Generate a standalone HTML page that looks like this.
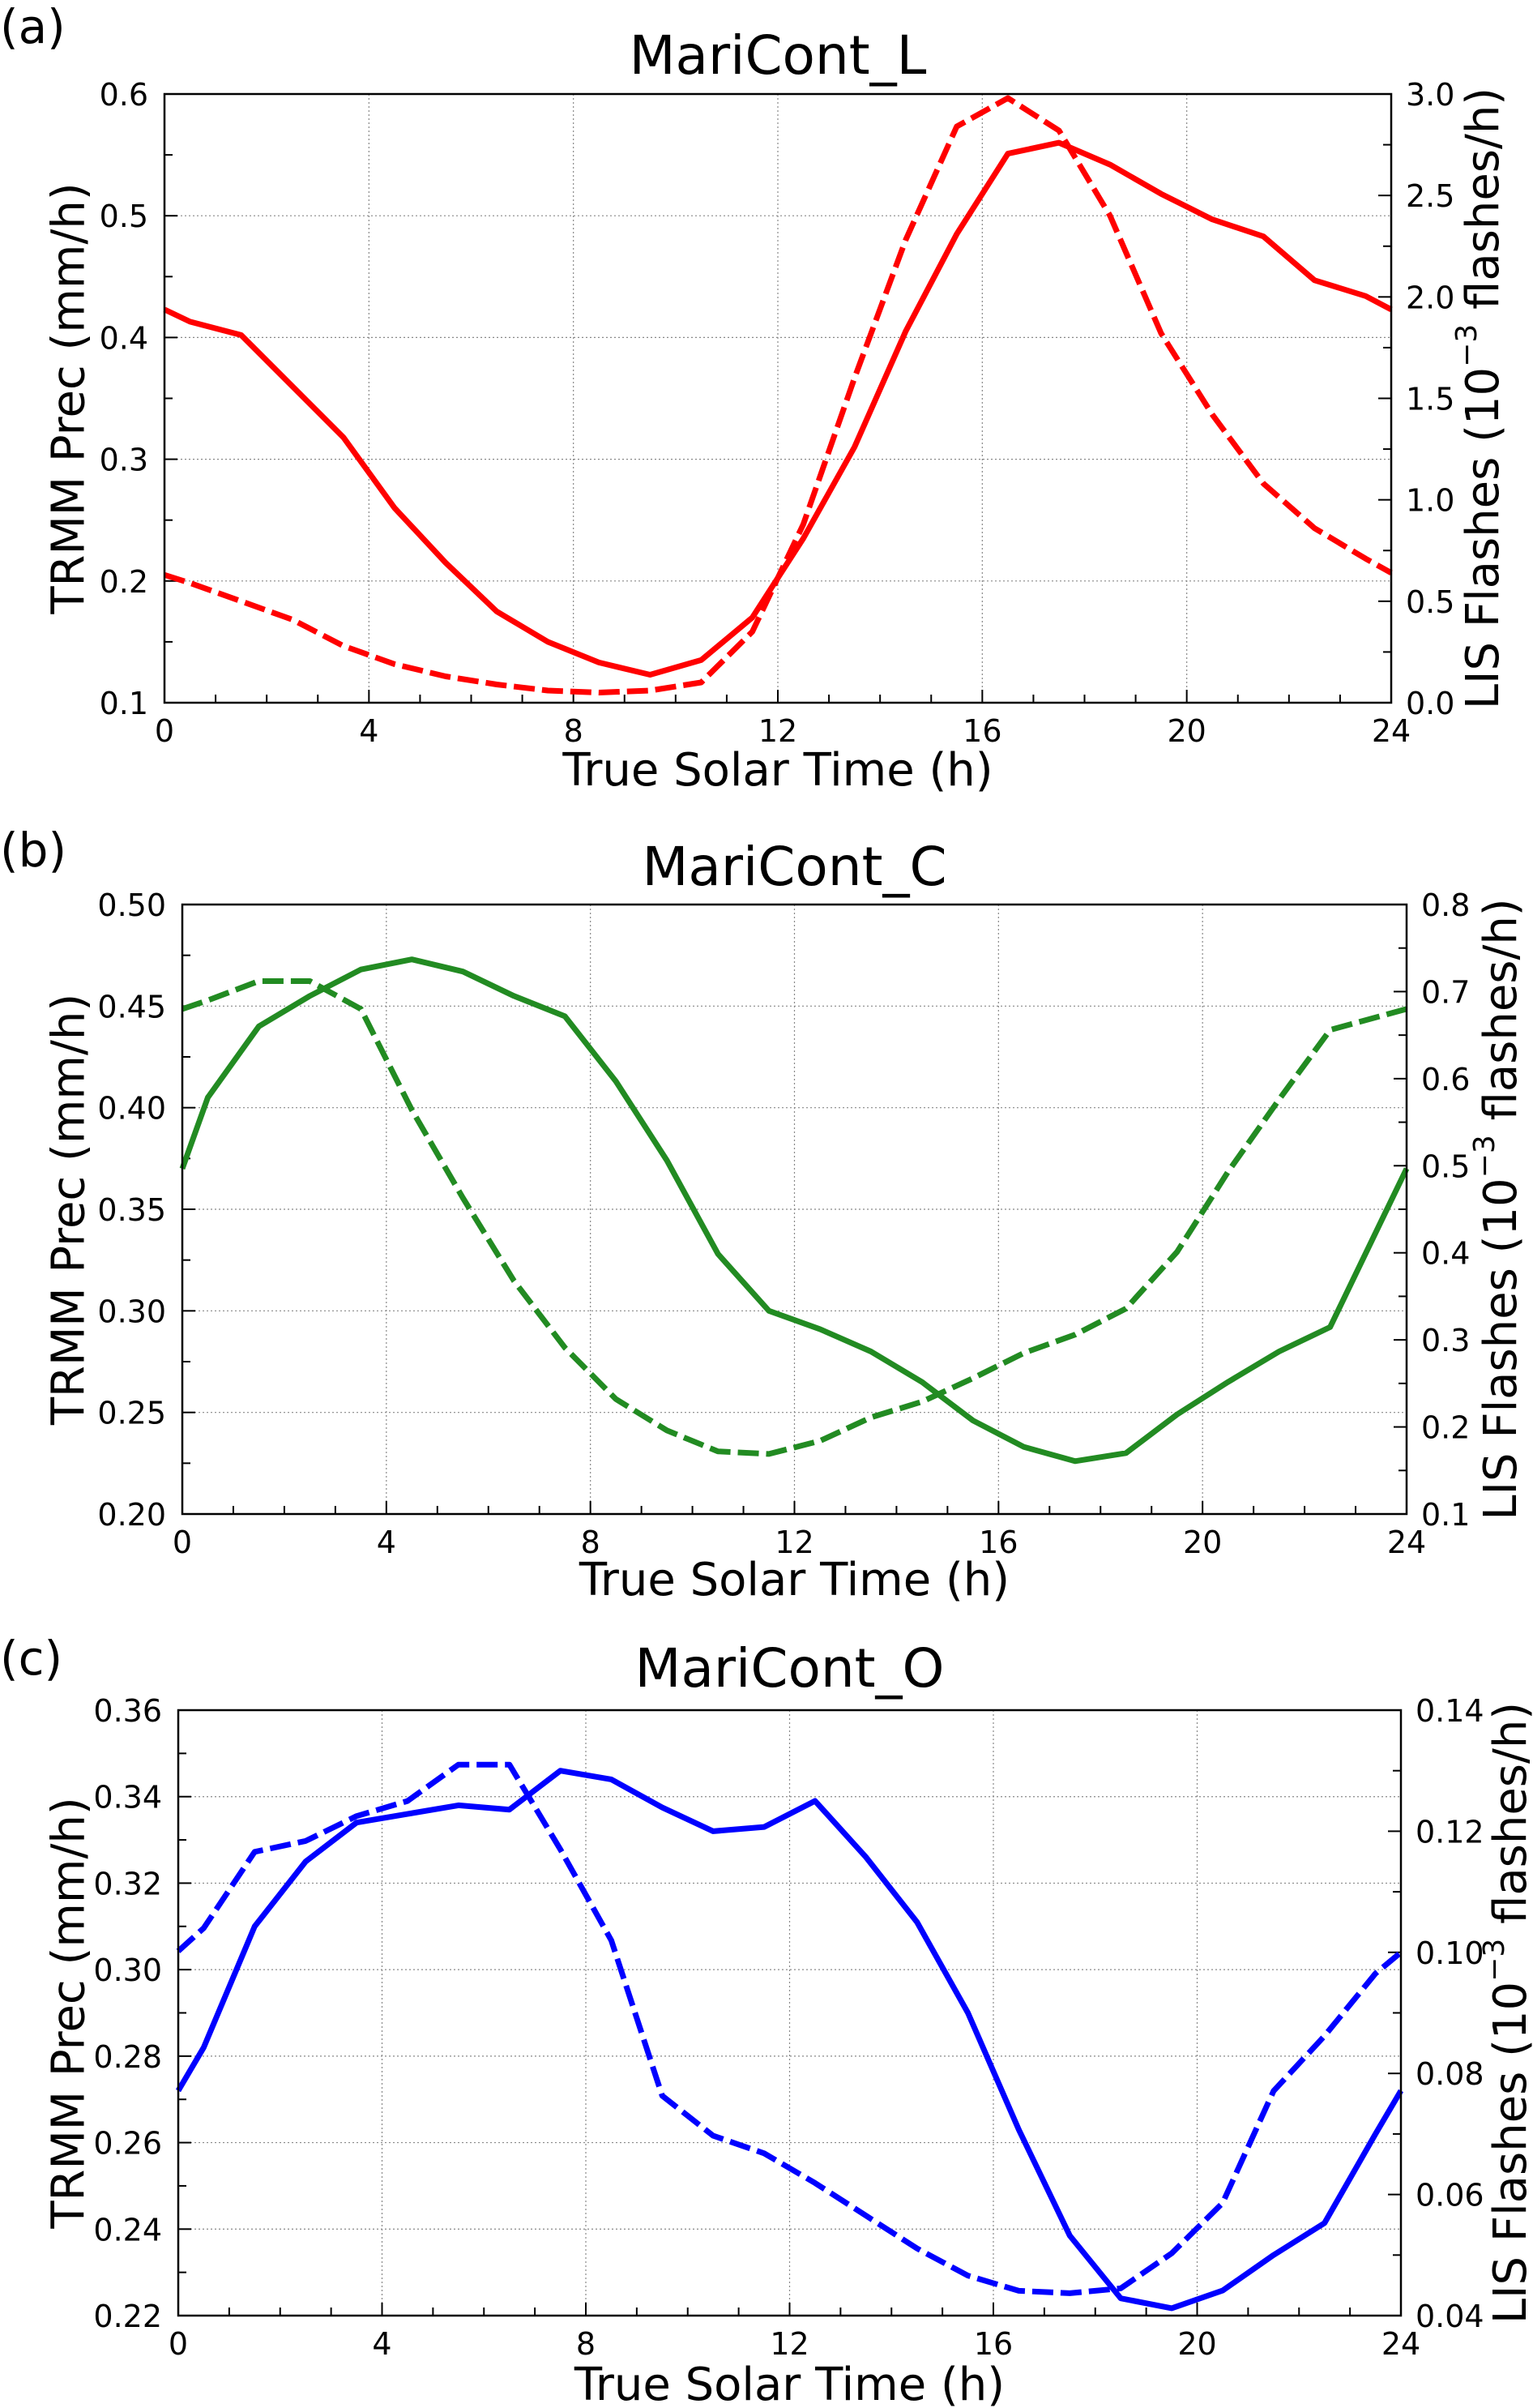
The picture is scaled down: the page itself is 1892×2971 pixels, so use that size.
<!DOCTYPE html>
<html><head><meta charset="utf-8"><style>
html,body{margin:0;padding:0;background:#fff;}
svg{display:block;font-family:"DejaVu Sans","Liberation Sans",sans-serif;}
</style></head><body>
<svg id="fig" width="1892" height="2971" viewBox="0 0 1892 2971" xmlns="http://www.w3.org/2000/svg"></svg>
<script>
const hours = [0,0.5,1.5,2.5,3.5,4.5,5.5,6.5,7.5,8.5,9.5,10.5,11.5,12.5,13.5,14.5,15.5,16.5,17.5,18.5,19.5,20.5,21.5,22.5,23.5,24];
const precL = [0.423,0.413,0.402,0.36,0.318,0.26,0.215,0.175,0.15,0.133,0.123,0.135,0.17,0.235,0.31,0.405,0.485,0.551,0.56,0.542,0.518,0.497,0.483,0.447,0.434,0.423];
const flashL = [0.63,0.59,0.5,0.41,0.28,0.19,0.13,0.09,0.06,0.05,0.06,0.1,0.35,0.88,1.6,2.28,2.84,2.98,2.82,2.4,1.82,1.42,1.08,0.86,0.71,0.64];
const precC = [0.37,0.405,0.44,0.455,0.468,0.473,0.467,0.455,0.445,0.413,0.374,0.328,0.3,0.291,0.28,0.265,0.246,0.233,0.226,0.23,0.249,0.265,0.28,0.292,0.344,0.37];
const flashC = [0.68,0.69,0.712,0.712,0.68,0.564,0.463,0.368,0.291,0.232,0.196,0.172,0.169,0.184,0.211,0.229,0.256,0.285,0.306,0.336,0.401,0.493,0.576,0.656,0.672,0.68];
const precO = [0.272,0.282,0.31,0.325,0.334,0.336,0.338,0.337,0.346,0.344,0.3375,0.332,0.333,0.339,0.326,0.311,0.29,0.263,0.2385,0.224,0.2217,0.2258,0.234,0.2414,0.262,0.272];
const flashO = [0.1002,0.104,0.1166,0.1184,0.1225,0.125,0.131,0.131,0.117,0.102,0.0763,0.0697,0.0668,0.0619,0.0565,0.0511,0.0466,0.0441,0.0437,0.0445,0.0503,0.0586,0.0771,0.0862,0.0965,0.1];
const xTicks = [0,4,8,12,16,20,24];
const leftTicksL = ["0.1","0.2","0.3","0.4","0.5","0.6"];
const rightTicksL = ["0.0","0.5","1.0","1.5","2.0","2.5","3.0"];
const leftTicksC = ["0.20","0.25","0.30","0.35","0.40","0.45","0.50"];
const rightTicksC = ["0.1","0.2","0.3","0.4","0.5","0.6","0.7","0.8"];
const leftTicksO = ["0.22","0.24","0.26","0.28","0.30","0.32","0.34","0.36"];
const rightTicksO = ["0.04","0.06","0.08","0.10","0.12","0.14"];

const NS="http://www.w3.org/2000/svg";
const svg=document.getElementById('fig');
function mk(tag,attrs,parent){const e=document.createElementNS(NS,tag);for(const k in attrs)e.setAttribute(k,attrs[k]);(parent||svg).appendChild(e);return e;}

const panels=[
 {id:'a',label:'(a)',title:'MariCont_L',L:203,R:1717,T:116,B:867,color:'#ff0000',prec:precL,flash:flashL,lt:leftTicksL,rt:rightTicksL,lbY:53,tY:91,xlY:969,rlx:1830},
 {id:'b',label:'(b)',title:'MariCont_C',L:225,R:1736,T:1116,B:1868,color:'#228b22',prec:precC,flash:flashC,lt:leftTicksC,rt:rightTicksC,lbY:1069,tY:1092,xlY:1968,rlx:1852},
 {id:'c',label:'(c)',title:'MariCont_O',L:220,R:1729,T:2110,B:2857,color:'#0000ff',prec:precO,flash:flashO,lt:leftTicksO,rt:rightTicksO,lbY:2066,tY:2081,xlY:2961,rlx:1864}
];

panels.forEach(p=>{
 const g=mk('g',{});
 
 
 const lmin=parseFloat(p.lt[0]),lmax=parseFloat(p.lt[p.lt.length-1]);
 const rmin=parseFloat(p.rt[0]),rmax=parseFloat(p.rt[p.rt.length-1]);
 const xs=v=>p.L+(v/24)*(p.R-p.L);
 const yl=v=>p.B-(v-lmin)/(lmax-lmin)*(p.B-p.T);
 const yr=v=>p.B-(v-rmin)/(rmax-rmin)*(p.B-p.T);
 const pl=mk('text',{x:0,y:p.lbY,'font-size':58},g);pl.textContent=p.label;
 
 
 const ti=mk('text',{x:(p.L+p.R)/2,y:p.tY,'font-size':66,'text-anchor':'middle'},g);ti.textContent=p.title;
 
 
 xTicks.forEach(t=>{ if(t>0&&t<24){const l=mk('line',{x1:xs(t),x2:xs(t),y1:p.T,y2:p.B,stroke:'#888','stroke-width':1.2,'stroke-dasharray':'2,3'},g);
  
  }});
 p.lt.forEach((t,i)=>{ if(i>0&&i<p.lt.length-1){const l=mk('line',{x1:p.L,x2:p.R,y1:yl(parseFloat(t)),y2:yl(parseFloat(t)),stroke:'#888','stroke-width':1.2,'stroke-dasharray':'2,3'},g);
  
  }});
 for(let h=0;h<=24;h++){const maj=h%4===0;const l=mk('line',{x1:xs(h),x2:xs(h),y1:p.B,y2:p.B-(maj?16:10),stroke:'#000','stroke-width':2},g);
  
  }
 xTicks.forEach(t=>{const tx=mk('text',{x:xs(t),y:p.B+48,'font-size':38,'text-anchor':'middle'},g);tx.textContent=t;
  
  });
 const ln=p.lt.length-1;
 for(let i=0;i<=ln*2;i++){const v=lmin+(lmax-lmin)*i/(ln*2);const maj=i%2===0;
  const l=mk('line',{x1:p.L,x2:p.L+(maj?16:10),y1:yl(v),y2:yl(v),stroke:'#000','stroke-width':2},g);
  
  }
 p.lt.forEach(t=>{const tx=mk('text',{x:p.L-20,y:yl(parseFloat(t))+14,'font-size':38,'text-anchor':'end'},g);tx.textContent=t;
  
  });
 const rn=p.rt.length-1;
 for(let i=0;i<=rn*2;i++){const v=rmin+(rmax-rmin)*i/(rn*2);const maj=i%2===0;
  const l=mk('line',{x1:p.R,x2:p.R-(maj?16:10),y1:yr(v),y2:yr(v),stroke:'#000','stroke-width':2},g);
  
  }
 p.rt.forEach(t=>{const tx=mk('text',{x:p.R+18,y:yr(parseFloat(t))+14,'font-size':38},g);tx.textContent=t;
  
  });
 const dp=hours.map((h,i)=>xs(h).toFixed(1)+','+yr(p.flash[i]).toFixed(1)).join(' ');
 const ds=mk('polyline',{points:dp,fill:'none',stroke:p.color,'stroke-width':7,'stroke-dasharray':'26,9','stroke-linejoin':'round'},g);
 
 
 const sp=hours.map((h,i)=>xs(h).toFixed(1)+','+yl(p.prec[i]).toFixed(1)).join(' ');
 const so=mk('polyline',{points:sp,fill:'none',stroke:p.color,'stroke-width':7,'stroke-linejoin':'round'},g);
 
 
 const fr=mk('rect',{x:p.L,y:p.T,width:p.R-p.L,height:p.B-p.T,fill:'none',stroke:'#000','stroke-width':2.5},g);
 
 
 const xl=mk('text',{x:(p.L+p.R)/2,y:p.xlY,'font-size':56,'text-anchor':'middle'},g);xl.textContent='True Solar Time (h)';
 
 
 const cy=(p.T+p.B)/2;
 const yt=mk('text',{x:85,y:cy,'font-size':56,'text-anchor':'middle','dominant-baseline':'central',transform:`rotate(-90 85 ${cy})`},g);yt.textContent='TRMM Prec (mm/h)';
 
 
 const rt=mk('text',{x:p.rlx,y:cy,'font-size':56,'text-anchor':'middle','dominant-baseline':'central',transform:`rotate(-90 ${p.rlx} ${cy})`},g);
 
 
 const a1=mk('tspan',{},rt);a1.textContent='LIS Flashes (10';
 const a2=mk('tspan',{dy:-20,'font-size':36},rt);a2.textContent='\u22123';
 const a3=mk('tspan',{dy:20},rt);a3.textContent=' flashes/h)';
});
</script>
</body></html>
